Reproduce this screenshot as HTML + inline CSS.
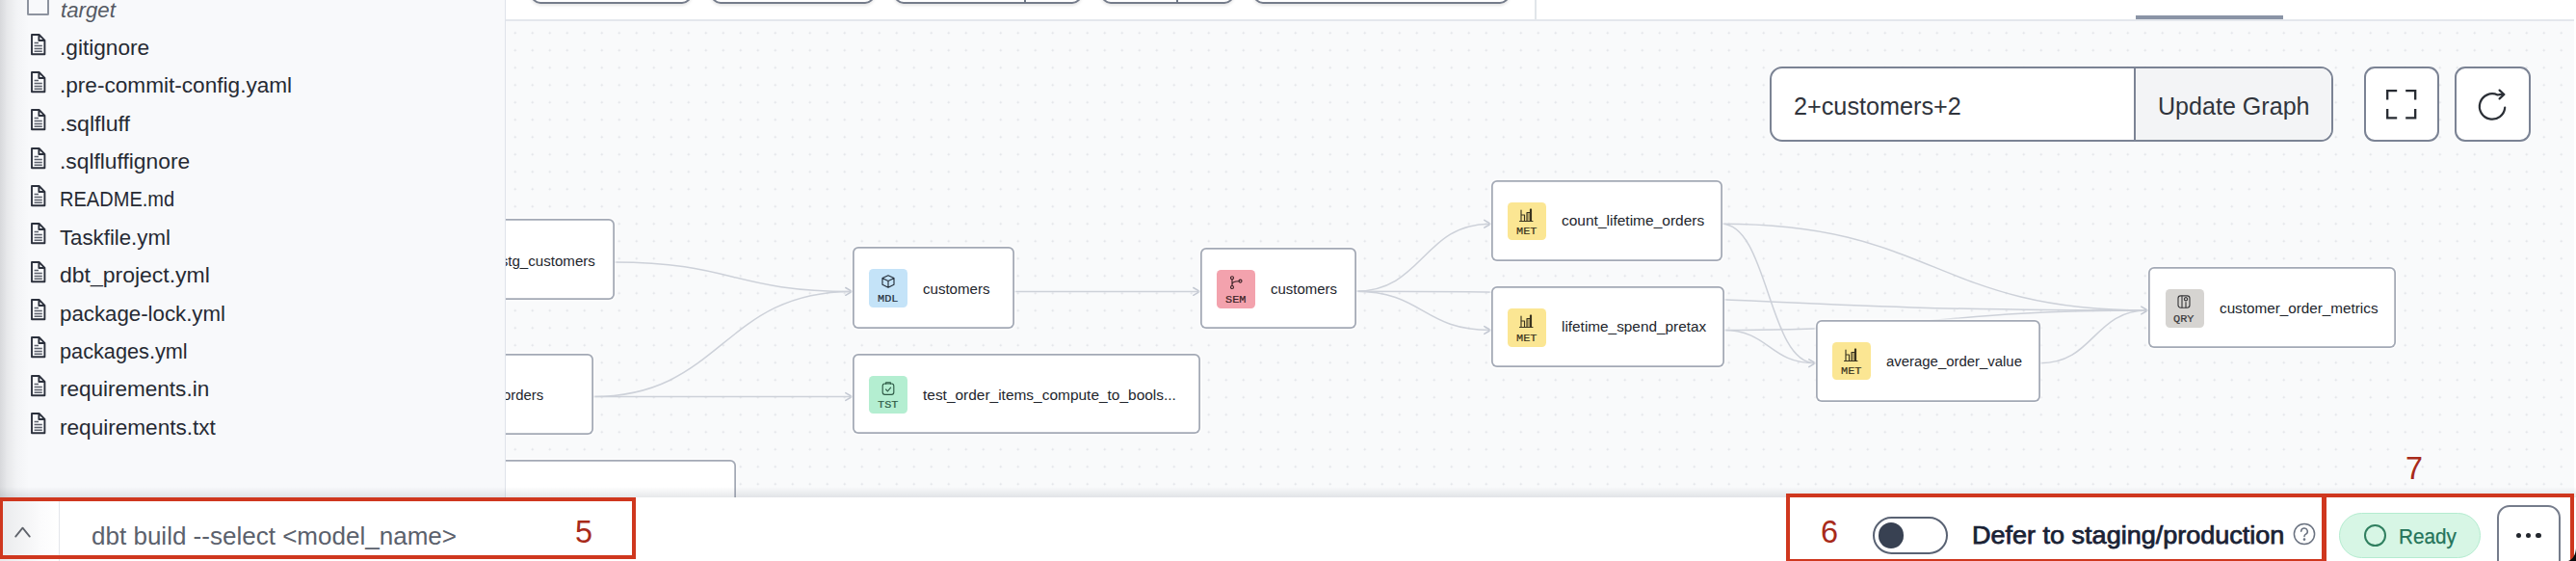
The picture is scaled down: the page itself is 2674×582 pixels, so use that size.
<!DOCTYPE html>
<html lang="en"><head><meta charset="utf-8"><title>dbt Cloud IDE</title>
<style>
html,body{margin:0;padding:0}
body{width:2674px;height:582px;position:relative;overflow:hidden;background:#fff;font-family:"Liberation Sans",sans-serif}
.abs,.t,.node,.ib{position:absolute}
.t{white-space:nowrap;transform-origin:0 0;display:block}
.node{background:#fff;border-radius:6px;box-sizing:border-box;box-shadow:inset 0 0 0 1.75px #a3a9b5,0 0 0 1.5px rgba(255,255,255,.6)}
.ib{width:40px;height:39.5px;border-radius:4.5px}
svg{position:absolute;overflow:visible}
</style></head><body>

<div class="abs" id="graph" style="left:525px;top:21px;width:2149px;height:495px;background-color:#f9fafb;background-image:radial-gradient(circle at 1.5px 1.5px,#dcdfe4 0.7px,rgba(220,223,228,0) 1.35px);background-size:18px 18px;background-position:8.3px 11.7px"></div>
<svg class="abs" style="left:0;top:0" width="2674" height="582" viewBox="0 0 2674 582" fill="none" stroke="#cdd1d9" stroke-width="1.5" stroke-linecap="round" stroke-linejoin="round">
<path d="M637.5,272.0 C760.8,272.0 760.8,302.4 884.0,302.4"/>
<path d="M615.6,411.5 C749.8,411.5 749.8,302.4 884.0,302.4"/>
<path d="M615.6,411.5 C749.8,411.5 749.8,411.5 884.0,411.5"/>
<path d="M1052.5,302.4 C1148.8,302.4 1148.8,302.4 1245.0,302.4"/>
<path d="M1407.0,302.2 C1477.0,302.2 1477.0,232.3 1547.0,232.3"/>
<path d="M1407.0,302.2 C1477.0,302.2 1477.0,342.5 1547.0,342.5"/>
<path d="M1407.0,302.2 C1818.0,302.2 1818.0,322.0 2229.0,322.0"/>
<path d="M1787.0,232.3 C2008.0,232.3 2008.0,322.0 2229.0,322.0"/>
<path d="M1787.0,232.3 C1835.5,232.3 1835.5,376.7 1884.0,376.7"/>
<path d="M1789.0,342.5 C1836.5,342.5 1836.5,376.7 1884.0,376.7"/>
<path d="M1789.0,342.5 C2009.0,342.5 2009.0,322.0 2229.0,322.0"/>
<path d="M2118.0,376.7 C2173.5,376.7 2173.5,322.0 2229.0,322.0"/>
<path d="M1540.8,228.4 L1547.5,232.3 L1540.8,236.2" stroke="#c3c8d2"/>
<path d="M877.8,298.5 L884.5,302.4 L877.8,306.3" stroke="#c3c8d2"/>
<path d="M877.8,407.6 L884.5,411.5 L877.8,415.4" stroke="#c3c8d2"/>
<path d="M1238.8,298.5 L1245.5,302.4 L1238.8,306.3" stroke="#c3c8d2"/>
<path d="M2222.8,318.1 L2229.5,322.0 L2222.8,325.9" stroke="#c3c8d2"/>
<path d="M1540.8,338.6 L1547.5,342.5 L1540.8,346.4" stroke="#c3c8d2"/>
<path d="M1877.8,372.8 L1884.5,376.7 L1877.8,380.6" stroke="#c3c8d2"/>
</svg>
<div class="node" style="left:430.0px;top:227.2px;width:207.5px;height:83.4px"></div>
<span class="t" style="left:519.71px;top:261px;font:normal normal 15.1px/1.2 'Liberation Sans',sans-serif;color:#22252c;transform:translateY(0.80px) scaleX(1.0000);">stg_customers</span>
<div class="node" style="left:430.0px;top:366.8px;width:185.6px;height:83.8px"></div>
<span class="t" style="left:521.84px;top:401px;font:normal normal 15.1px/1.2 'Liberation Sans',sans-serif;color:#22252c;transform:translateY(0.30px) scaleX(0.9850);">orders</span>
<div class="node" style="left:430px;top:477px;width:333.5px;height:84px"></div>
<div class="node" style="left:884.9px;top:256.4px;width:168.1px;height:84.6px"></div>
<div class="ib" style="left:902.3px;top:279.2px;background:#c4e3f8"></div>
<svg style="left:914.5px;top:285.4px" width="14" height="14" viewBox="0 0 14 14" fill="none" stroke="#26303c" stroke-width="1.15" stroke-linejoin="round" stroke-linecap="round"><path d="M7 0.8 L13 3.6 V10.2 L7 13.2 L1 10.2 V3.6 Z M1.3 3.8 L7 6.6 L12.7 3.8 M7 6.6 V13"/></svg>
<span class="t" style="left:910.90px;top:303px;font:normal normal 11px/1.2 'Liberation Mono',monospace;color:#26303c;transform:translateY(0.80px) scaleX(1.0807);-webkit-text-stroke:0.2px #26303c;">MDL</span>
<span class="t" style="left:958.20px;top:291px;font:normal normal 15.1px/1.2 'Liberation Sans',sans-serif;color:#22252c;transform:translateY(0.10px) scaleX(0.9979);">customers</span>
<div class="node" style="left:884.9px;top:366.8px;width:361.1px;height:83.6px"></div>
<div class="ib" style="left:902.3px;top:389.6px;background:#b4eed1"></div>
<svg style="left:914.5px;top:395.8px" width="14" height="14" viewBox="0 0 14 14" fill="none" stroke="#2f5b47" stroke-width="1.15" stroke-linejoin="round" stroke-linecap="round"><rect x="1.2" y="2" width="11.6" height="11.4" rx="2.4"/><path d="M4.6 2.2 V0.9 H9.4 V2.2 M4.6 8 L6.4 9.8 L9.6 6.2"/></svg>
<span class="t" style="left:910.90px;top:414px;font:normal normal 11px/1.2 'Liberation Mono',monospace;color:#2f5b47;transform:translateY(0.20px) scaleX(1.0807);-webkit-text-stroke:0.2px #2f5b47;">TST</span>
<span class="t" style="left:958.20px;top:401px;font:normal normal 15.1px/1.2 'Liberation Sans',sans-serif;color:#22252c;transform:translateY(0.20px) scaleX(1.0239);">test_order_items_compute_to_bools...</span>
<div class="node" style="left:1246.0px;top:257.2px;width:161.8px;height:83.6px"></div>
<div class="ib" style="left:1263.4px;top:280.0px;background:#f3a2ad"></div>
<svg style="left:1275.6px;top:286.2px" width="14" height="14" viewBox="0 0 14 14" fill="none" stroke="#3a2226" stroke-width="1.15" stroke-linejoin="round" stroke-linecap="round"><circle cx="3" cy="2.2" r="1.5"/><circle cx="3" cy="12" r="1.5"/><circle cx="11.5" cy="5.6" r="1.5"/><path d="M3 3.7 V10.5 M3 9 C3 6.5 6 5.8 10 5.7"/></svg>
<span class="t" style="left:1272.00px;top:304px;font:normal normal 11px/1.2 'Liberation Mono',monospace;color:#3a2226;transform:translateY(0.60px) scaleX(1.0807);-webkit-text-stroke:0.2px #3a2226;">SEM</span>
<span class="t" style="left:1319.30px;top:291px;font:normal normal 15.1px/1.2 'Liberation Sans',sans-serif;color:#22252c;transform:translateY(0.10px) scaleX(0.9893);">customers</span>
<div class="node" style="left:1547.5px;top:187.0px;width:240.3px;height:83.8px"></div>
<div class="ib" style="left:1564.9px;top:209.8px;background:#fbe693"></div>
<svg style="left:1577.1px;top:216.0px" width="14" height="14" viewBox="0 0 14 14" fill="none" stroke="#3a3420" stroke-width="1.15" stroke-linejoin="round" stroke-linecap="round"><path d="M0.5 13.5 H14 M2 13 V2 M2 7 H5.5 V13 M8 13 V4.5 H11.5 V13 M11.5 13 V1 H12.5 V13" /><rect x="8.3" y="4.8" width="3" height="8" fill="rgba(60,52,32,.35)" stroke="none"/></svg>
<span class="t" style="left:1573.50px;top:234px;font:normal normal 11px/1.2 'Liberation Mono',monospace;color:#3a3420;transform:translateY(0.40px) scaleX(1.0807);-webkit-text-stroke:0.2px #3a3420;">MET</span>
<span class="t" style="left:1620.80px;top:220px;font:normal normal 15.1px/1.2 'Liberation Sans',sans-serif;color:#22252c;transform:translateY(0.00px) scaleX(1.0272);">count_lifetime_orders</span>
<div class="node" style="left:1547.5px;top:297.4px;width:242.5px;height:84.0px"></div>
<div class="ib" style="left:1564.9px;top:320.2px;background:#fbe693"></div>
<svg style="left:1577.1px;top:326.4px" width="14" height="14" viewBox="0 0 14 14" fill="none" stroke="#3a3420" stroke-width="1.15" stroke-linejoin="round" stroke-linecap="round"><path d="M0.5 13.5 H14 M2 13 V2 M2 7 H5.5 V13 M8 13 V4.5 H11.5 V13 M11.5 13 V1 H12.5 V13" /><rect x="8.3" y="4.8" width="3" height="8" fill="rgba(60,52,32,.35)" stroke="none"/></svg>
<span class="t" style="left:1573.50px;top:344px;font:normal normal 11px/1.2 'Liberation Mono',monospace;color:#3a3420;transform:translateY(0.80px) scaleX(1.0807);-webkit-text-stroke:0.2px #3a3420;">MET</span>
<span class="t" style="left:1620.80px;top:330px;font:normal normal 15.1px/1.2 'Liberation Sans',sans-serif;color:#22252c;transform:translateY(0.30px) scaleX(1.0167);">lifetime_spend_pretax</span>
<div class="node" style="left:1884.6px;top:332.0px;width:233.8px;height:84.5px"></div>
<div class="ib" style="left:1902.0px;top:354.8px;background:#fbe693"></div>
<svg style="left:1914.2px;top:361.0px" width="14" height="14" viewBox="0 0 14 14" fill="none" stroke="#3a3420" stroke-width="1.15" stroke-linejoin="round" stroke-linecap="round"><path d="M0.5 13.5 H14 M2 13 V2 M2 7 H5.5 V13 M8 13 V4.5 H11.5 V13 M11.5 13 V1 H12.5 V13" /><rect x="8.3" y="4.8" width="3" height="8" fill="rgba(60,52,32,.35)" stroke="none"/></svg>
<span class="t" style="left:1910.60px;top:379px;font:normal normal 11px/1.2 'Liberation Mono',monospace;color:#3a3420;transform:translateY(0.40px) scaleX(1.0807);-webkit-text-stroke:0.2px #3a3420;">MET</span>
<span class="t" style="left:1957.90px;top:365px;font:normal normal 15.1px/1.2 'Liberation Sans',sans-serif;color:#22252c;transform:translateY(0.70px) scaleX(0.9880);">average_order_value</span>
<div class="node" style="left:2230.4px;top:277.2px;width:256.2px;height:83.7px"></div>
<div class="ib" style="left:2247.8px;top:300.0px;background:#d6d4d1"></div>
<svg style="left:2260.0px;top:306.2px" width="14" height="14" viewBox="0 0 14 14" fill="none" stroke="#3a3a3c" stroke-width="1.15" stroke-linejoin="round" stroke-linecap="round"><rect x="1" y="0.8" width="12" height="12.4" rx="2.6"/><path d="M5 1 V13 M9 13 V7.5 M7.4 4.2 a1.6 1.6 0 1 0 3.2 0 a1.6 1.6 0 1 0 -3.2 0"/></svg>
<span class="t" style="left:2256.40px;top:324px;font:normal normal 11px/1.2 'Liberation Mono',monospace;color:#3a3a3c;transform:translateY(0.60px) scaleX(1.0807);-webkit-text-stroke:0.2px #3a3a3c;">QRY</span>
<span class="t" style="left:2303.70px;top:310px;font:normal normal 15.1px/1.2 'Liberation Sans',sans-serif;color:#22252c;transform:translateY(0.70px) scaleX(1.0110);">customer_order_metrics</span>
<div class="abs" style="left:1837px;top:69px;width:584.5px;height:78px;box-sizing:border-box;border:2px solid #7b8394;border-radius:13px;background:#fff;overflow:hidden"><div class="abs" style="left:376px;top:0;width:207px;height:74px;background:#f3f4f6;border-left:2px solid #7b8394"></div></div>
<span class="t" style="left:1861.80px;top:94px;font:normal normal 25.2px/1.2 'Liberation Sans',sans-serif;color:#30343c;transform:translateY(0.70px) scaleX(1.0012);">2+customers+2</span>
<span class="t" style="left:2239.90px;top:94px;font:normal normal 25.2px/1.2 'Liberation Sans',sans-serif;color:#30343c;transform:translateY(0.70px) scaleX(0.9956);">Update Graph</span>
<div class="abs" style="left:2454px;top:69px;width:78.2px;height:78px;box-sizing:border-box;border:2px solid #7b8394;border-radius:11px;background:#fff"></div>
<div class="abs" style="left:2548.4px;top:69px;width:78.2px;height:78px;box-sizing:border-box;border:2px solid #7b8394;border-radius:11px;background:#fff"></div>
<svg style="left:2477px;top:93px" width="31.4" height="30.6" viewBox="0 0 31.4 30.6" fill="none" stroke="#262a31" stroke-width="2.3"><path d="M1.2 10.6 V1.2 H11.2 M20.2 1.2 H30.2 V10.6 M30.2 20 V29.4 H20.2 M11.2 29.4 H1.2 V20"/></svg>
<svg style="left:2570px;top:92px" width="36" height="36" viewBox="0 0 36 36" fill="none" stroke="#2b2f36" stroke-width="2.2" stroke-linecap="round" stroke-linejoin="round"><path d="M30.2 19.6 A13.2 13.2 0 1 1 22.6 6.5 Q25.4 5.8 29 6"/><path d="M24.6 1.6 L29.4 6 L24.6 10.4"/></svg>
<div class="abs" style="left:525px;top:0;width:2149px;height:20px;background:#fff;border-bottom:2px solid #e4e7ec"></div>
<div class="abs" style="left:550.8px;top:-30px;width:167.2px;height:34px;box-sizing:border-box;border:2px solid #757c8b;border-radius:10px;background:#fff;box-shadow:0 2px 3px rgba(0,0,0,.10)"></div>
<div class="abs" style="left:738.0px;top:-30px;width:170.0px;height:34px;box-sizing:border-box;border:2px solid #757c8b;border-radius:10px;background:#fff;box-shadow:0 2px 3px rgba(0,0,0,.10)"></div>
<div class="abs" style="left:927.8px;top:-30px;width:195.0px;height:34px;box-sizing:border-box;border:2px solid #757c8b;border-radius:10px;background:#fff;box-shadow:0 2px 3px rgba(0,0,0,.10)"></div>
<div class="abs" style="left:1062.6px;top:0;width:2px;height:3px;background:#6f7786"></div>
<div class="abs" style="left:1142.8px;top:-30px;width:138.5px;height:34px;box-sizing:border-box;border:2px solid #757c8b;border-radius:10px;background:#fff;box-shadow:0 2px 3px rgba(0,0,0,.10)"></div>
<div class="abs" style="left:1220.7px;top:0;width:2px;height:3px;background:#6f7786"></div>
<div class="abs" style="left:1300.5px;top:-30px;width:266.1px;height:34px;box-sizing:border-box;border:2px solid #757c8b;border-radius:10px;background:#fff;box-shadow:0 2px 3px rgba(0,0,0,.10)"></div>
<div class="abs" style="left:1593px;top:0;width:2px;height:20px;background:#e1e5ea"></div>
<div class="abs" style="left:2217px;top:16px;width:153px;height:3.5px;background:#8a94a6"></div>
<div class="abs" style="left:2672px;top:0;width:2px;height:516px;background:#fff"></div>
<div class="abs" id="sidebar" style="left:0;top:0;width:524px;height:516px;background:#f8f9fb;border-right:1.5px solid #dfe3ea"></div>
<div class="abs" style="left:0;top:0;width:30px;height:582px;background:linear-gradient(90deg,rgba(110,112,118,.24),rgba(110,112,118,.12) 25%,rgba(110,112,118,.04) 60%,rgba(110,112,118,0))"></div>
<svg style="left:31.5px;top:34.5px" width="15.4" height="22.2" viewBox="0 0 15.4 22.2" fill="none" stroke="#2c313d" stroke-linejoin="round"><path d="M1 1 H8.6 L14.4 6.8 V21.2 H1 Z M8.4 1.2 V7 H14.2" stroke-width="1.9"/><path d="M3.6 9.6 H8 M3.6 12.6 H11.8 M3.6 15.4 H11.8 M3.6 18.2 H11.8" stroke="#5d626d" stroke-width="1.5"/></svg>
<span class="t" style="left:61.80px;top:36px;font:normal normal 22.6px/1.2 'Liberation Sans',sans-serif;color:#262a33;transform:translateY(0.00px) scaleX(1.0024);">.gitignore</span>
<svg style="left:31.5px;top:73.9px" width="15.4" height="22.2" viewBox="0 0 15.4 22.2" fill="none" stroke="#2c313d" stroke-linejoin="round"><path d="M1 1 H8.6 L14.4 6.8 V21.2 H1 Z M8.4 1.2 V7 H14.2" stroke-width="1.9"/><path d="M3.6 9.6 H8 M3.6 12.6 H11.8 M3.6 15.4 H11.8 M3.6 18.2 H11.8" stroke="#5d626d" stroke-width="1.5"/></svg>
<span class="t" style="left:61.80px;top:75px;font:normal normal 22.6px/1.2 'Liberation Sans',sans-serif;color:#262a33;transform:translateY(0.36px) scaleX(1.0003);">.pre-commit-config.yaml</span>
<svg style="left:31.5px;top:113.2px" width="15.4" height="22.2" viewBox="0 0 15.4 22.2" fill="none" stroke="#2c313d" stroke-linejoin="round"><path d="M1 1 H8.6 L14.4 6.8 V21.2 H1 Z M8.4 1.2 V7 H14.2" stroke-width="1.9"/><path d="M3.6 9.6 H8 M3.6 12.6 H11.8 M3.6 15.4 H11.8 M3.6 18.2 H11.8" stroke="#5d626d" stroke-width="1.5"/></svg>
<span class="t" style="left:61.80px;top:114px;font:normal normal 22.6px/1.2 'Liberation Sans',sans-serif;color:#262a33;transform:translateY(0.72px) scaleX(1.0255);">.sqlfluff</span>
<svg style="left:31.5px;top:152.6px" width="15.4" height="22.2" viewBox="0 0 15.4 22.2" fill="none" stroke="#2c313d" stroke-linejoin="round"><path d="M1 1 H8.6 L14.4 6.8 V21.2 H1 Z M8.4 1.2 V7 H14.2" stroke-width="1.9"/><path d="M3.6 9.6 H8 M3.6 12.6 H11.8 M3.6 15.4 H11.8 M3.6 18.2 H11.8" stroke="#5d626d" stroke-width="1.5"/></svg>
<span class="t" style="left:61.80px;top:154px;font:normal normal 22.6px/1.2 'Liberation Sans',sans-serif;color:#262a33;transform:translateY(0.08px) scaleX(1.0088);">.sqlfluffignore</span>
<svg style="left:31.5px;top:191.9px" width="15.4" height="22.2" viewBox="0 0 15.4 22.2" fill="none" stroke="#2c313d" stroke-linejoin="round"><path d="M1 1 H8.6 L14.4 6.8 V21.2 H1 Z M8.4 1.2 V7 H14.2" stroke-width="1.9"/><path d="M3.6 9.6 H8 M3.6 12.6 H11.8 M3.6 15.4 H11.8 M3.6 18.2 H11.8" stroke="#5d626d" stroke-width="1.5"/></svg>
<span class="t" style="left:61.80px;top:193px;font:normal normal 22.6px/1.2 'Liberation Sans',sans-serif;color:#262a33;transform:translateY(0.44px) scaleX(0.8871);">README.md</span>
<svg style="left:31.5px;top:231.3px" width="15.4" height="22.2" viewBox="0 0 15.4 22.2" fill="none" stroke="#2c313d" stroke-linejoin="round"><path d="M1 1 H8.6 L14.4 6.8 V21.2 H1 Z M8.4 1.2 V7 H14.2" stroke-width="1.9"/><path d="M3.6 9.6 H8 M3.6 12.6 H11.8 M3.6 15.4 H11.8 M3.6 18.2 H11.8" stroke="#5d626d" stroke-width="1.5"/></svg>
<span class="t" style="left:61.80px;top:232px;font:normal normal 22.6px/1.2 'Liberation Sans',sans-serif;color:#262a33;transform:translateY(0.80px) scaleX(0.9838);">Taskfile.yml</span>
<svg style="left:31.5px;top:270.7px" width="15.4" height="22.2" viewBox="0 0 15.4 22.2" fill="none" stroke="#2c313d" stroke-linejoin="round"><path d="M1 1 H8.6 L14.4 6.8 V21.2 H1 Z M8.4 1.2 V7 H14.2" stroke-width="1.9"/><path d="M3.6 9.6 H8 M3.6 12.6 H11.8 M3.6 15.4 H11.8 M3.6 18.2 H11.8" stroke="#5d626d" stroke-width="1.5"/></svg>
<span class="t" style="left:61.80px;top:272px;font:normal normal 22.6px/1.2 'Liberation Sans',sans-serif;color:#262a33;transform:translateY(0.16px) scaleX(1.0173);">dbt_project.yml</span>
<svg style="left:31.5px;top:310.0px" width="15.4" height="22.2" viewBox="0 0 15.4 22.2" fill="none" stroke="#2c313d" stroke-linejoin="round"><path d="M1 1 H8.6 L14.4 6.8 V21.2 H1 Z M8.4 1.2 V7 H14.2" stroke-width="1.9"/><path d="M3.6 9.6 H8 M3.6 12.6 H11.8 M3.6 15.4 H11.8 M3.6 18.2 H11.8" stroke="#5d626d" stroke-width="1.5"/></svg>
<span class="t" style="left:61.80px;top:311px;font:normal normal 22.6px/1.2 'Liberation Sans',sans-serif;color:#262a33;transform:translateY(0.52px) scaleX(0.9852);">package-lock.yml</span>
<svg style="left:31.5px;top:349.4px" width="15.4" height="22.2" viewBox="0 0 15.4 22.2" fill="none" stroke="#2c313d" stroke-linejoin="round"><path d="M1 1 H8.6 L14.4 6.8 V21.2 H1 Z M8.4 1.2 V7 H14.2" stroke-width="1.9"/><path d="M3.6 9.6 H8 M3.6 12.6 H11.8 M3.6 15.4 H11.8 M3.6 18.2 H11.8" stroke="#5d626d" stroke-width="1.5"/></svg>
<span class="t" style="left:61.80px;top:350px;font:normal normal 22.6px/1.2 'Liberation Sans',sans-serif;color:#262a33;transform:translateY(0.88px) scaleX(0.9604);">packages.yml</span>
<svg style="left:31.5px;top:388.7px" width="15.4" height="22.2" viewBox="0 0 15.4 22.2" fill="none" stroke="#2c313d" stroke-linejoin="round"><path d="M1 1 H8.6 L14.4 6.8 V21.2 H1 Z M8.4 1.2 V7 H14.2" stroke-width="1.9"/><path d="M3.6 9.6 H8 M3.6 12.6 H11.8 M3.6 15.4 H11.8 M3.6 18.2 H11.8" stroke="#5d626d" stroke-width="1.5"/></svg>
<span class="t" style="left:61.80px;top:390px;font:normal normal 22.6px/1.2 'Liberation Sans',sans-serif;color:#262a33;transform:translateY(0.24px) scaleX(0.9964);">requirements.in</span>
<svg style="left:31.5px;top:428.1px" width="15.4" height="22.2" viewBox="0 0 15.4 22.2" fill="none" stroke="#2c313d" stroke-linejoin="round"><path d="M1 1 H8.6 L14.4 6.8 V21.2 H1 Z M8.4 1.2 V7 H14.2" stroke-width="1.9"/><path d="M3.6 9.6 H8 M3.6 12.6 H11.8 M3.6 15.4 H11.8 M3.6 18.2 H11.8" stroke="#5d626d" stroke-width="1.5"/></svg>
<span class="t" style="left:61.80px;top:429px;font:normal normal 22.6px/1.2 'Liberation Sans',sans-serif;color:#262a33;transform:translateY(0.60px) scaleX(0.9992);">requirements.txt</span>
<div class="abs" style="left:27.7px;top:-12px;width:23px;height:28px;box-sizing:border-box;border:2px solid #8d939f;border-radius:1.5px"></div>
<span class="t" style="left:62.70px;top:-4px;font:italic normal 22.6px/1.2 'Liberation Sans',sans-serif;color:#565b64;transform:translateY(0.60px) scaleX(0.9846);">target</span>
<div class="abs" style="left:0;top:505px;width:2674px;height:11px;background:linear-gradient(180deg,rgba(100,110,125,0),rgba(100,110,125,.16))"></div>
<div class="abs" id="cmdbar" style="left:0;top:516px;width:2674px;height:66px;background:#fff"></div>
<div class="abs" style="left:0;top:516px;width:61px;height:66px;background:linear-gradient(90deg,#e9eaec,#fbfbfc 70%,#fff);border-right:1.5px solid #e3e6eb"></div>
<svg style="left:15.2px;top:546px" width="17" height="12" viewBox="0 0 17 12" fill="none" stroke="#5f636b" stroke-width="1.8" stroke-linecap="round" stroke-linejoin="round"><path d="M1.2 10.6 L8.5 1.6 L15.8 10.6"/></svg>
<span class="t" style="left:95.00px;top:541px;font:normal normal 26px/1.2 'Liberation Sans',sans-serif;color:#5b616c;transform:translateY(0.40px) scaleX(1.0009);">dbt build --select &lt;model_name&gt;</span>
<div class="abs" style="left:1943.5px;top:536px;width:78.5px;height:38.5px;box-sizing:border-box;border:2px solid #596273;border-radius:20px;background:#fff"></div>
<div class="abs" style="left:1950px;top:542.2px;width:26.4px;height:26.4px;border-radius:50%;background:#384152"></div>
<span class="t" style="left:2046.50px;top:540px;font:normal normal 25.6px/1.2 'Liberation Sans',sans-serif;color:#1a2235;transform:translateY(0.40px) scaleX(1.0556);-webkit-text-stroke:0.75px #1a2235;">Defer to staging/production</span>
<svg style="left:2380px;top:541.6px" width="24" height="24" viewBox="0 0 24 24" fill="none" stroke="#6a7280" stroke-width="1.5" stroke-linecap="round"><circle cx="12" cy="12" r="10.6"/><path d="M8.7 9.3 a3.3 3.3 0 1 1 4.9 2.9 c-1.1 .6 -1.6 1.2 -1.6 2.4"/><circle cx="12" cy="17.6" r=".6" fill="#6a7280"/></svg>
<div class="abs" style="left:2428px;top:531.7px;width:147px;height:47px;box-sizing:border-box;border:1.5px solid #b4ecd0;border-radius:24px;background:#d7f6e5"></div>
<div class="abs" style="left:2453.5px;top:543.5px;width:23px;height:23px;box-sizing:border-box;border:2px solid #2f7f5f;border-radius:50%"></div>
<span class="t" style="left:2490.00px;top:544px;font:normal normal 22px/1.2 'Liberation Sans',sans-serif;color:#24745a;transform:translateY(0.20px) scaleX(0.9403);-webkit-text-stroke:0.25px #24745a;">Ready</span>
<div class="abs" style="left:2591.7px;top:524px;width:66.3px;height:70px;box-sizing:border-box;border:2px solid #757c8b;border-radius:13px;background:#fff"></div>
<div class="abs" style="left:2611.8px;top:552.5px;width:5.6px;height:5.6px;border-radius:50%;background:#22262d"></div>
<div class="abs" style="left:2621.9px;top:552.5px;width:5.6px;height:5.6px;border-radius:50%;background:#22262d"></div>
<div class="abs" style="left:2632.0px;top:552.5px;width:5.6px;height:5.6px;border-radius:50%;background:#22262d"></div>
<div class="abs" style="left:-1px;top:516px;width:661px;height:64px;box-sizing:border-box;border:4px solid #cf371e"></div>
<div class="abs" style="left:1854px;top:512px;width:560px;height:72px;box-sizing:border-box;border:4px solid #cf371e"></div>
<div class="abs" style="left:2411px;top:512px;width:260.5px;height:80px;box-sizing:border-box;border:4px solid #cf371e"></div>
<span class="t" style="left:597.00px;top:531px;font:normal normal 33px/1.2 'Liberation Sans',sans-serif;color:#a82a1a;transform:translateY(0.60px) scaleX(0.9807);">5</span>
<span class="t" style="left:1889.50px;top:531px;font:normal normal 33px/1.2 'Liberation Sans',sans-serif;color:#a82a1a;transform:translateY(0.60px) scaleX(0.9807);">6</span>
<span class="t" style="left:2496.60px;top:466px;font:normal normal 33px/1.2 'Liberation Sans',sans-serif;color:#a82a1a;transform:translateY(0.20px) scaleX(0.9807);">7</span>
<svg style="left:2666px;top:569px" width="8" height="13" viewBox="0 0 8 13"><path d="M8 0 V13 H0 C4.5 11.5 7.5 7 8 0 Z" fill="#0b0b0c"/></svg>
</body></html>
